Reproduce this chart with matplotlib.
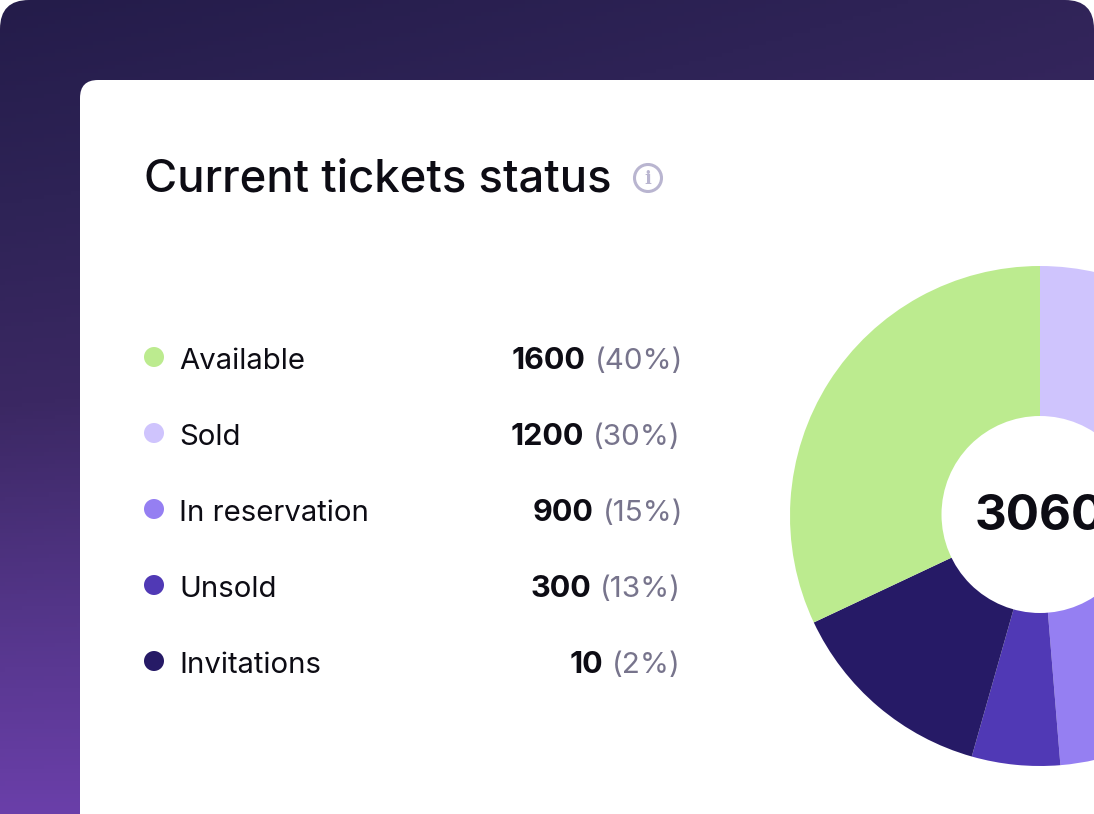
import numpy as np
import matplotlib
matplotlib.use("Agg")
import matplotlib.pyplot as plt
from matplotlib.patches import FancyBboxPatch, Circle
from matplotlib.colors import LinearSegmentedColormap

W, H = 1094, 814
FONT = "Inter"

# ---- data ----
title = "Current tickets status"
total_label = "3060"
categories = ["Available", "Sold", "In reservation", "Unsold", "Invitations"]
counts = ["1600", "1200", "900", "300", "10"]
percents = ["(40%)", "(30%)", "(15%)", "(13%)", "(2%)"]
colors = ["#BCEB8F", "#CFC4FD", "#957FF2", "#5039B5", "#261A66"]
# drawn slice shares, clockwise from 12 o'clock (as measured on the picture)
pie_order = ["Sold", "In reservation", "Unsold", "Invitations", "Available"]
pie_shares = [30.0, 18.7, 5.7, 13.6, 32.0]

fig = plt.figure(figsize=(W / 100, H / 100), dpi=100, facecolor="white")
ax = fig.add_axes([0, 0, 1, 1])
ax.set_xlim(0, W)
ax.set_ylim(H, 0)
ax.axis("off")

# background gradient, clipped to a rounded card
cmap = LinearSegmentedColormap.from_list(
    "bg", ["#241C4A", "#2E2356", "#3B2863", "#533588", "#6A3FA9"])
gx, gy = np.meshgrid(np.linspace(0, 1, 200), np.linspace(0, 1, 200))
grad = gy + 0.3 * gx * (1 - gy)
im = ax.imshow(grad, extent=(0, W, H, 0), cmap=cmap, vmin=0, vmax=1,
               aspect="auto", zorder=1)
card = FancyBboxPatch((0, 0), W, H + 60, boxstyle="round,pad=0,rounding_size=29",
                      fc="none", ec="none", transform=ax.transData)
ax.add_patch(card)
im.set_clip_path(card)
ax.set_xlim(0, W)
ax.set_ylim(H, 0)

# white panel
panel = FancyBboxPatch((80, 80), W + 60, H + 60, boxstyle="round,pad=0,rounding_size=18",
                       fc="white", ec="none", zorder=2)
ax.add_patch(panel)

ink = "#0D0C14"
ax.text(144, 192, title, fontsize=32.7, family=FONT, color=ink, va="baseline",
        ha="left", weight="medium", zorder=3)

# info icon
ax.add_patch(Circle((648, 178), 13.5, fc="none", ec="#B9B5D0", lw=2.2, zorder=3))
ax.text(648, 178.5, "i", fontsize=13, family="DejaVu Serif", weight="bold",
        color="#B9B5D0", ha="center", va="center", zorder=3)

# legend rows
row_y = [357, 433, 509, 585, 661]
right_x = [683, 681, 683, 681, 681]
fig.canvas.draw()
rend = fig.canvas.get_renderer()
for y, rx, cat, cnt, pct, col in zip(row_y, right_x, categories, counts, percents, colors):
    ax.add_patch(Circle((154, y), 10, fc=col, ec="none", zorder=3))
    ax.text(179, y + 12, cat, fontsize=21.1, family=FONT, color=ink, ha="left",
            va="baseline", zorder=3)
    p = ax.text(rx, y + 12, pct, fontsize=21.3, family=FONT, color="#77748C",
                ha="right", va="baseline", zorder=3)
    x0 = p.get_window_extent(rend).x0
    ax.text(x0 - 9, y + 12, cnt, fontsize=22, family=FONT, weight="bold", color=ink,
            ha="right", va="baseline", zorder=3)

# donut
cx, cy, r, hole = 1040, 516, 250, 98.5
pax = fig.add_axes([(cx - r) / W, 1 - (cy + r) / H, 2 * r / W, 2 * r / H], zorder=5)
lookup = dict(zip(categories, colors))
pax.pie(pie_shares, colors=[lookup[c] for c in pie_order], startangle=90,
        counterclock=False, radius=1, wedgeprops=dict(linewidth=0))
pax.set_xlim(-1, 1)
pax.set_ylim(-1, 1)
pax.add_patch(Circle((0, 1.5 / r), hole / r, fc="white", ec="none", zorder=4))
pax.text(0, -0.003, total_label, fontsize=35.5, family=FONT, weight="bold", color=ink,
         ha="center", va="center", clip_on=False, zorder=5)

fig.savefig("out.png", dpi=100, facecolor="white")
